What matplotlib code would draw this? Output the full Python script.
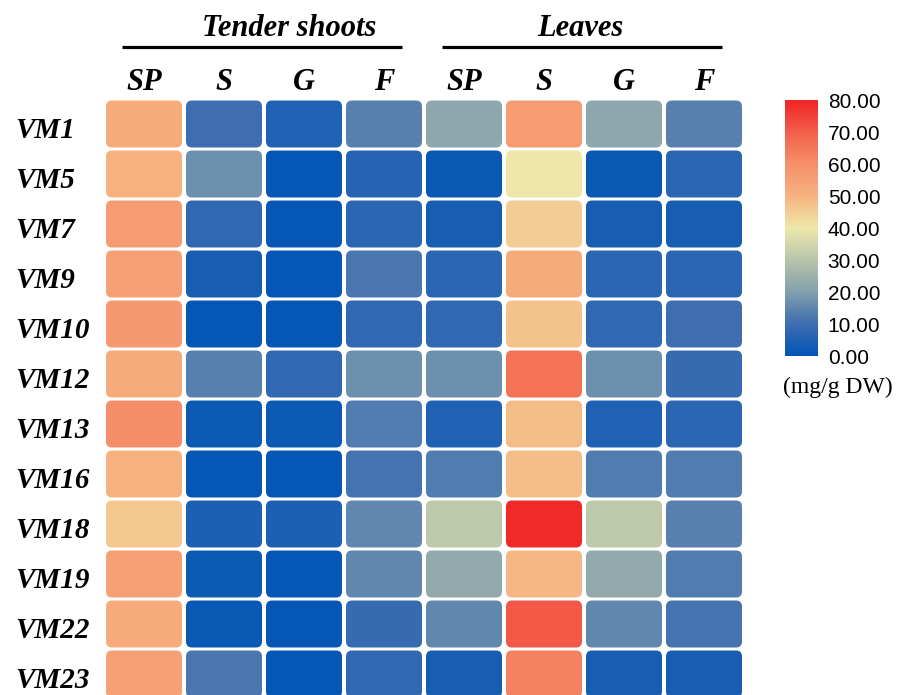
import numpy as np
import matplotlib.pyplot as plt
from matplotlib.colors import LinearSegmentedColormap, Normalize
from matplotlib.patches import FancyBboxPatch
from matplotlib.cm import ScalarMappable

# 品种与发育时期
samples = ["VM1", "VM5", "VM7", "VM9", "VM10", "VM12",
           "VM13", "VM16", "VM18", "VM19", "VM22", "VM23"]
stages = ["SP", "S", "G", "F"]
tissues = ["Tender shoots", "Leaves"]

# 含量 (mg/g DW)，每行依次为 SP, S, G, F
tender = [
    [52, 10, 5, 14],
    [50, 17, 1, 6],
    [56, 8, 1, 7],
    [55, 4, 1, 12],
    [57, 1, 1, 8],
    [52, 14, 8, 17],
    [60, 2, 2, 13],
    [50, 1, 1, 11],
    [46, 4.5, 4.5, 15],
    [55, 2, 1, 15],
    [52, 1.5, 1, 9],
    [55, 12, 1, 8],
]
leaves = [
    [22, 56, 22, 14],
    [1.5, 40, 1.5, 7],
    [4, 45, 4, 4],
    [7, 52, 7, 7],
    [8, 47, 8, 10],
    [17, 66, 17, 9],
    [5, 48, 5, 7],
    [13, 48, 13, 13],
    [31, 79, 31, 14],
    [23, 49, 23, 13],
    [15, 71, 15, 11],
    [4, 63, 4, 4],
]
cbar_ticks = [0, 10, 20, 30, 40, 50, 60, 70, 80]

data = np.hstack([np.array(tender), np.array(leaves)])
nrow, ncol = data.shape

cmap = LinearSegmentedColormap.from_list(
    "byr", [(0, "#0055b5"), (0.125, "#3e6db1"), (0.25, "#82a0ac"),
            (0.5, "#eee8aa"), (0.625, "#f6b27f"), (0.75, "#f58f6c"),
            (0.875, "#f2604c"), (1, "#ef2424")], N=256)
norm = Normalize(vmin=0, vmax=80)

W, H = 898, 695
fig = plt.figure(figsize=(W / 100, H / 100), dpi=100)
ax = fig.add_axes([104 / W, (H - 699) / H, 640 / W, 600 / H])
ax.set_xlim(0, ncol)
ax.set_ylim(nrow, 0)
ax.axis("off")

bold_it = dict(family="Liberation Serif", weight="bold", style="italic")

# 圆角方块
for i in range(nrow):
    for j in range(ncol):
        box = FancyBboxPatch((j + 0.025, i + 0.03), 0.95, 0.94,
                             boxstyle="round,pad=0,rounding_size=0.075",
                             mutation_aspect=1.6,
                             facecolor=cmap(norm(data[i, j])),
                             edgecolor="none")
        ax.add_patch(box)

# 行标签
for i, name in enumerate(samples):
    ax.text(-1.1125, i + 0.78, name, ha="left", va="baseline",
            fontsize=21, clip_on=False, **bold_it)

# 列标签、分组标题与横线
title_x = [2.31, 5.95]
for k, tissue in enumerate(tissues):
    for s, st in enumerate(stages):
        ax.text(k * 4 + s + 0.5, -0.18, st, ha="center", va="baseline",
                fontsize=22, clip_on=False, **bold_it)
    ax.text(title_x[k], -1.26, tissue, ha="center", va="baseline",
            fontsize=22, clip_on=False, **bold_it)
    ax.plot([k * 4 + 0.23, k * 4 + 3.72], [-1.04, -1.04], color="black",
            lw=2.3, solid_capstyle="butt", clip_on=False)

# 色标
cax = fig.add_axes([785 / W, (H - 356) / H, 33 / W, 256 / H])
cb = fig.colorbar(ScalarMappable(norm=norm, cmap=cmap), cax=cax,
                  ticks=cbar_ticks)
cb.outline.set_visible(False)
cb.ax.tick_params(length=0, pad=7)
cb.ax.set_yticklabels(["%.2f" % t for t in cbar_ticks],
                      family="Liberation Sans", fontsize=15)
fig.text(838 / W, 1 - 387 / H, "(mg/g DW)", ha="center", va="center",
         family="Liberation Serif", fontsize=17)

fig.savefig("out.png", dpi=100)
